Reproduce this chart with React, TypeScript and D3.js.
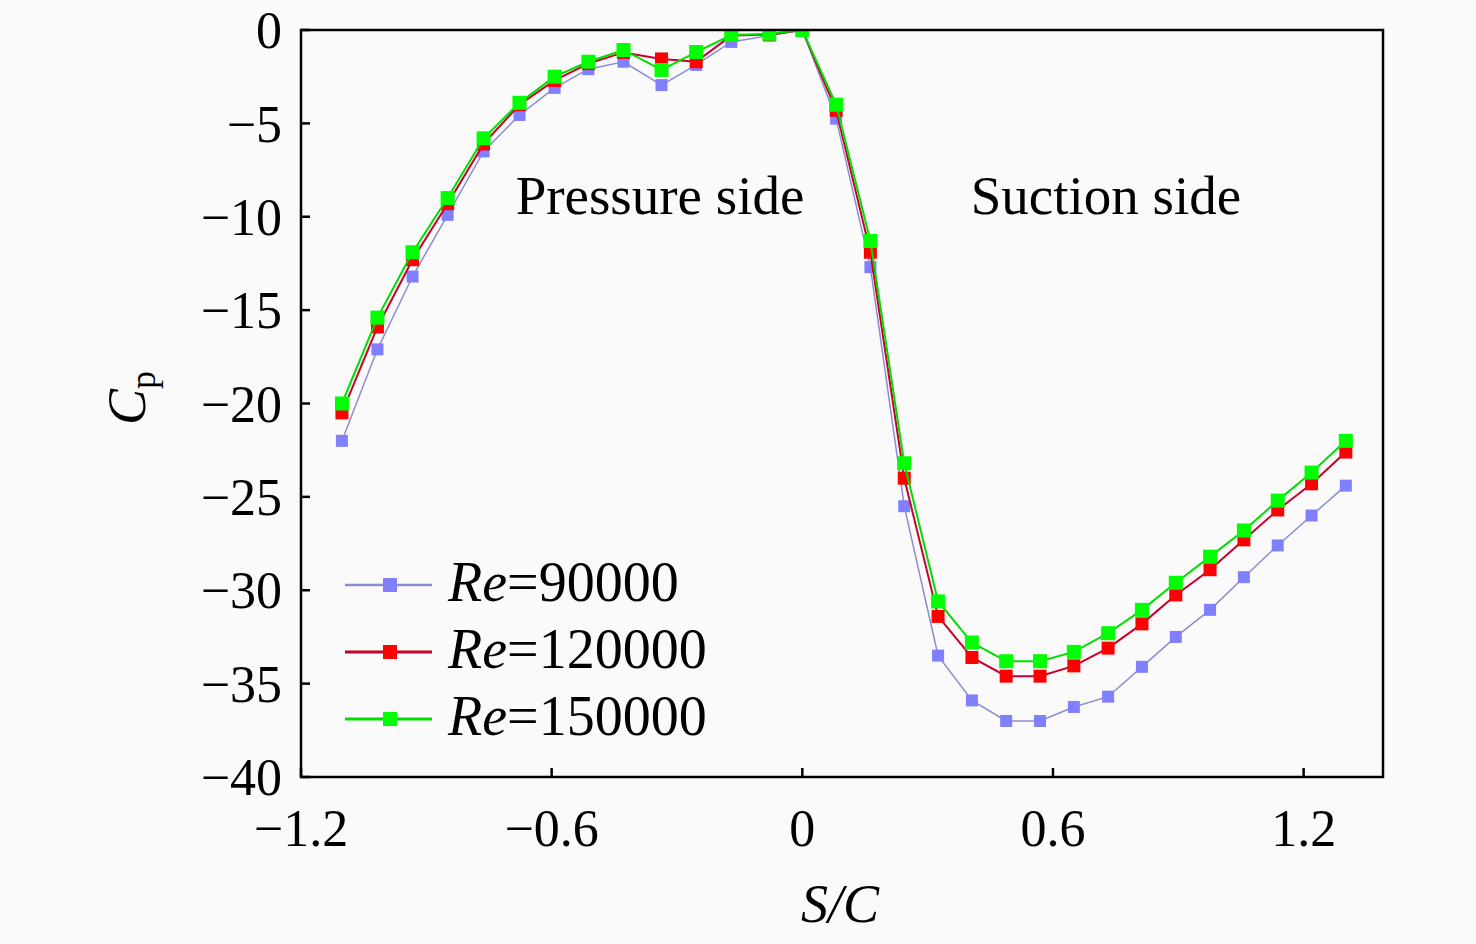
import React from "react";
import * as d3 from "d3";

// S/C positions (pressure side, leading edge, suction side)
const sc = [
  -1.102, -1.017, -0.933, -0.849, -0.763, -0.677, -0.593, -0.512, -0.428, -0.337, -0.254, -0.17, -0.079,
  0,
  0.081, 0.163, 0.244, 0.325, 0.406, 0.488, 0.569, 0.65, 0.732, 0.813, 0.894, 0.976, 1.057, 1.138, 1.219, 1.301,
];

const cpRe90000 = [
  -22.0, -17.1, -13.2, -9.9, -6.5, -4.55, -3.1, -2.1, -1.7, -2.95, -1.87, -0.64, -0.3,
  0,
  -4.75, -12.7, -25.5, -33.5, -35.9, -37.0, -37.0, -36.25, -35.7, -34.1, -32.5, -31.05, -29.3, -27.6, -26.0, -24.4,
];

const cpRe120000 = [
  -20.5, -15.9, -12.3, -9.3, -6.1, -4.0, -2.7, -1.8, -1.2, -1.55, -1.7, -0.3, -0.25,
  0,
  -4.3, -11.9, -24.0, -31.4, -33.6, -34.6, -34.6, -34.05, -33.1, -31.8, -30.25, -28.9, -27.3, -25.7, -24.3, -22.6,
];

const cpRe150000 = [
  -20.0, -15.4, -11.9, -9.0, -5.8, -3.9, -2.5, -1.7, -1.07, -2.14, -1.18, -0.27, -0.2,
  0,
  -4.0, -11.3, -23.2, -30.6, -32.8, -33.8, -33.8, -33.3, -32.3, -31.05, -29.6, -28.2, -26.8, -25.2, -23.7, -22.0,
];

const xTicks = [-1.2, -0.6, 0, 0.6, 1.2];
const yTicks = [0, -5, -10, -15, -20, -25, -30, -35, -40];

const seriesList = [
  { re: "90000", values: cpRe90000, line: "#8c8cd0", marker: "#8080ff", lw: 1.5, size: 12 },
  { re: "120000", values: cpRe120000, line: "#c8002c", marker: "#ff0000", lw: 2, size: 13 },
  { re: "150000", values: cpRe150000, line: "#00dd00", marker: "#00ff00", lw: 2, size: 14 },
];

const W = 1476;
const H = 944;
const left = 301, right = 1383, top = 30, bottom = 777;
const serif = "'Liberation Serif', 'Times New Roman', serif";
const fmt = (v: number) => (v < 0 ? "\u2212" + String(Math.abs(v)) : String(v));

export default function App() {
  const x = d3.scaleLinear().domain([-1.2, 1.39]).range([left, right]);
  const y = d3.scaleLinear().domain([-40, 0]).range([bottom, top]);

  return (
    <svg
      width={W}
      height={H}
      style={{ position: "absolute", left: 0, top: 0, display: "block" }}
      fontFamily={serif}
    >
      <rect width={W} height={H} fill="#fafafa" />
      <defs>
        <clipPath id="plot">
          <rect x={left} y={top} width={right - left} height={bottom - top} />
        </clipPath>
      </defs>

      <g clipPath="url(#plot)">
        {seriesList.map((s) => {
          const pts = s.values.map((v, i) => [x(sc[i]), y(v)] as [number, number]);
          const path = d3.line()(pts) || "";
          return (
            <g key={s.re}>
              <path d={path} fill="none" stroke={s.line} strokeWidth={s.lw} />
              {pts.map((p, i) => (
                <rect
                  key={i}
                  x={p[0] - s.size / 2}
                  y={p[1] - s.size / 2}
                  width={s.size}
                  height={s.size}
                  fill={s.marker}
                />
              ))}
            </g>
          );
        })}
      </g>

      {/* frame */}
      <rect x={left} y={top} width={right - left} height={bottom - top} fill="none" stroke="#000" strokeWidth={2.5} />

      {/* y ticks */}
      {yTicks.map((t) => (
        <g key={t}>
          <line x1={left} x2={left + 9} y1={y(t)} y2={y(t)} stroke="#000" strokeWidth={2.5} />
          <text x={left - 19} y={y(t)} dy="0.35em" textAnchor="end" fontSize={52}>
            {fmt(t)}
          </text>
        </g>
      ))}

      {/* x ticks */}
      {xTicks.map((t) => (
        <g key={t}>
          <line x1={x(t)} x2={x(t)} y1={bottom} y2={bottom - 9} stroke="#000" strokeWidth={2.5} />
          <text x={x(t)} y={846} textAnchor="middle" fontSize={52}>
            {fmt(t)}
          </text>
        </g>
      ))}

      {/* axis titles */}
      <text x={840} y={922} textAnchor="middle" fontSize={54} fontStyle="italic">
        S/C
      </text>
      <text transform="translate(145,398) rotate(-90)" textAnchor="middle" fontSize={54}>
        <tspan fontStyle="italic">C</tspan>
        <tspan fontSize={36} dy={10}>p</tspan>
      </text>

      {/* annotations */}
      <text x={660} y={214} textAnchor="middle" fontSize={55}>
        Pressure side
      </text>
      <text x={1106} y={214} textAnchor="middle" fontSize={55}>
        Suction side
      </text>

      {/* legend */}
      {seriesList.map((s, i) => {
        const ly = 585 + i * 67;
        return (
          <g key={s.re}>
            <line x1={345} x2={432} y1={ly} y2={ly} stroke={s.line} strokeWidth={s.lw + 1} />
            <rect x={383} y={ly - 7} width={14} height={14} fill={s.marker} />
            <text x={448} y={ly + 16} fontSize={56}>
              <tspan fontStyle="italic">Re</tspan>
              <tspan>={s.re}</tspan>
            </text>
          </g>
        );
      })}
    </svg>
  );
}
